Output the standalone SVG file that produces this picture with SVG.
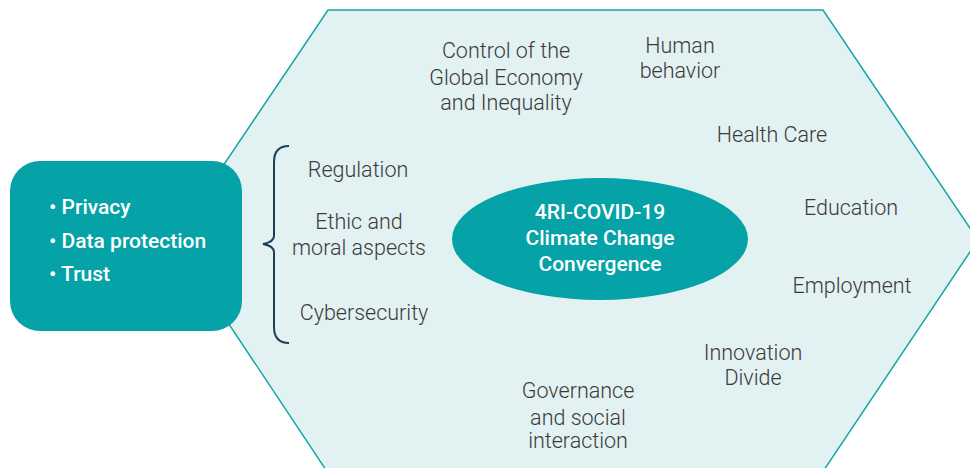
<svg xmlns="http://www.w3.org/2000/svg" width="970" height="468" viewBox="0 0 970 468">
<style>
.lbl{font-family:Roboto,"Liberation Sans",sans-serif;font-weight:300;font-size:21.5px;fill:#3a3a3a;text-anchor:middle}
.wt{font-family:Roboto,"Liberation Sans",sans-serif;font-weight:500;font-size:21px;fill:#ffffff}
.ctr{text-anchor:middle}
</style>
<rect width="970" height="468" fill="#ffffff"/>
<g id="hexagon">
<polygon points="328,10 823,10 978,240 824,470 326,470 173,240" fill="#E2F1F2" stroke="#16A5AA" stroke-width="1.5"/>
</g>
<g id="connectors">
<path d="M289,146 Q274,146 274,162 L274,236 Q274,242 263,244 Q274,246 274,252 L274,327 Q274,343 289,343" fill="none" stroke="#1B3E52" stroke-width="2"/>
</g>
<g id="box">
<rect x="10" y="161" width="232" height="170" rx="30" ry="30" fill="#05A2A7"/>
<text class="wt" x="49" y="214">• Privacy</text>
<text class="wt" x="49" y="248">• Data protection</text>
<text class="wt" x="49" y="281">• Trust</text>
</g>
<g id="center">
<ellipse cx="600" cy="239" rx="148" ry="61" fill="#05A2A7"/>
<text class="wt ctr" x="600" y="219">4RI-COVID-19</text>
<text class="wt ctr" x="600" y="245">Climate Change</text>
<text class="wt ctr" x="600" y="271">Convergence</text>
</g>
<g id="regulation"><text class="lbl" x="358" y="177">Regulation</text></g>
<g id="ethic"><text class="lbl" x="359" y="229">Ethic and</text><text class="lbl" x="359" y="255">moral aspects</text></g>
<g id="cyber"><text class="lbl" x="364" y="320">Cybersecurity</text></g>
<g id="control"><text class="lbl" x="506" y="58">Control of the</text><text class="lbl" x="506" y="85">Global Economy</text><text class="lbl" x="506" y="110">and Inequality</text></g>
<g id="human"><text class="lbl" x="680" y="53">Human</text><text class="lbl" x="680" y="78">behavior</text></g>
<g id="health"><text class="lbl" x="772" y="142">Health Care</text></g>
<g id="education"><text class="lbl" x="851" y="215">Education</text></g>
<g id="employment"><text class="lbl" x="852" y="293">Employment</text></g>
<g id="innovation"><text class="lbl" x="753" y="360">Innovation</text><text class="lbl" x="753" y="385">Divide</text></g>
<g id="governance"><text class="lbl" x="578" y="398">Governance</text><text class="lbl" x="578" y="425">and social</text><text class="lbl" x="578" y="448">interaction</text></g>
</svg>
